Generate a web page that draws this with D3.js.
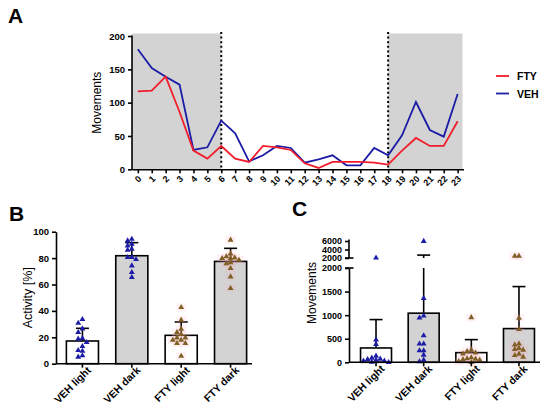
<!DOCTYPE html>
<html>
<head>
<meta charset="utf-8">
<script src="https://cdn.jsdelivr.net/npm/d3@7"></script>
<style>
  body { margin: 0; background: #fff; }
  svg { font-family: "Liberation Sans", Arial, sans-serif; }
</style>
</head>
<body>
<div id="chart"></div>
<script>
// ---- data ----
const hours = d3.range(0, 24);
const ftyHourly = [117, 118, 139, 86, 28, 16, 35, 16, 11, 35, 33, 29, 9, 2, 11, 11, 11, 10, 7, 28, 47, 35, 35, 72];
const vehHourly = [180, 152, 139, 127, 29, 33, 73, 54, 12, 21, 35, 32, 10, 15, 21, 6, 6, 32, 21, 51, 101, 59, 49, 113];
const hourTicksY = [0, 50, 100, 150, 200];

const groups = ["VEH light", "VEH dark", "FTY light", "FTY dark"];
const activityMean = [17.2, 81.8, 21.5, 77.5];
const activitySd = [9.6, 9.9, 10.1, 9.9];
const activityPoints = [
  [33.6, 30.8, 26.5, 23.7, 19.2, 18.7, 16.2, 13.1, 10.1, 9.6, 6.1, 5.1],
  [94.4, 93.2, 90.7, 89.4, 86.9, 86.1, 80.6, 80.6, 79.0, 74.2, 69.2, 65.4],
  [42.7, 33.1, 26.3, 23.7, 22.2, 19.7, 19.7, 17.9, 17.9, 15.4, 15.4, 5.8],
  [93.7, 83.3, 81.1, 80.3, 79.8, 79.8, 78.5, 76.6, 75.8, 72.2, 65.9, 57.1]
];
const activityTicks = [0, 20, 40, 60, 80, 100];

const movementMean = [304, 1042, 205, 715];
const movementSd = [602, 1642, 276, 891];
const movementPoints = [
  [2050, 475, 383, 135, 92, 71, 64, 50, 28, 28, 7, 0],
  [5937, 1355, 986, 943, 567, 390, 390, 248, 248, 156, 50, 14],
  [950, 262, 230, 200, 180, 100, 80, 70, 60, 50, 20, 0],
  [2450, 2450, 936, 700, 390, 369, 298, 277, 262, 177, 149, 113]
];
const movementTicksLow = [0, 500, 1000, 1500, 2000];
const movementTicksHigh = [2000, 4000, 6000];

// ---- styling ----
const RED = "#f21d2b";
const BLUE = "#1c1ca6";
const BROWN = "#7e5f24";
const GREY = "#d3d3d3";
const barColor = g => g.endsWith("dark") ? GREY : "#fff";
const pointColor = g => g.startsWith("VEH") ? BLUE : BROWN;

const svg = d3.select("#chart").append("svg")
  .attr("width", 550).attr("height", 413);

function styleAxis(g) {
  g.selectAll("path, line").attr("stroke", "#000").attr("stroke-width", 1.6);
  g.selectAll("text").attr("font-weight", "bold").attr("fill", "#000");
}

// simple swarm layout so that overlapping points spread sideways
function swarm(values, y, cx, dx, dy) {
  const placed = [];
  return values.map(v => {
    const py = y(v);
    for (let k = 0; k < 40; k++) {
      const off = k === 0 ? 0 : (k % 2 ? -1 : 1) * Math.ceil(k / 2) * dx;
      const px = cx + off;
      if (!placed.some(p => Math.abs(p.x - px) < dx * 0.9 && Math.abs(p.y - py) < dy)) {
        placed.push({ x: px, y: py });
        return { x: px, y: py, v };
      }
    }
    return { x: cx, y: py, v };
  });
}

const triangle = d3.symbol(d3.symbolTriangle, 15);

// ================= Panel A =================
svg.append("text").attr("x", 8).attr("y", 23)
  .attr("font-size", 21).attr("font-weight", "bold").text("A");

const xA = d3.scalePoint().domain(hours).range([132, 463.5]).padding(0.42);
const yA = d3.scaleLinear().domain([0, 200]).range([169.3, 36]);
const [xa0, xa1] = xA.range();

// dark phases shading
svg.append("rect").attr("x", xa0).attr("y", yA(200) - 2.5)
  .attr("width", xA(6) - xa0).attr("height", yA(0) - yA(200) + 2.5).attr("fill", GREY);
svg.append("rect").attr("x", xA(18)).attr("y", yA(200) - 2.5)
  .attr("width", xa1 - 1 - xA(18)).attr("height", yA(0) - yA(200) + 2.5).attr("fill", GREY);

[6, 18].forEach(h => {
  svg.append("line").attr("x1", xA(h)).attr("x2", xA(h))
    .attr("y1", yA(200) - 4).attr("y2", yA(0))
    .attr("stroke", "#000").attr("stroke-width", 2).attr("stroke-dasharray", "2,2.6");
});

const lineA = series => d3.line().x((d, i) => xA(hours[i])).y(d => yA(d))(series);
svg.append("path").attr("d", lineA(vehHourly)).attr("fill", "none")
  .attr("stroke", BLUE).attr("stroke-width", 1.8);
svg.append("path").attr("d", lineA(ftyHourly)).attr("fill", "none")
  .attr("stroke", RED).attr("stroke-width", 1.8);

const gAy = svg.append("g").attr("transform", `translate(${xa0},0)`)
  .call(d3.axisLeft(yA).tickValues(hourTicksY).tickSize(4).tickSizeOuter(0))
  .attr("font-size", 9.5).attr("font-family", null);
styleAxis(gAy);
gAy.select(".domain").remove();
gAy.append("line").attr("y1", yA(200) - 0.5).attr("y2", yA(0) + 0.8)
  .attr("stroke", "#000").attr("stroke-width", 1.6);

const gAx = svg.append("g").attr("transform", `translate(0,${yA(0)})`)
  .call(d3.axisBottom(xA).tickSize(4).tickSizeOuter(0))
  .attr("font-size", 9).attr("font-family", null);
styleAxis(gAx);
gAx.selectAll(".tick text")
  .attr("text-anchor", "end")
  .attr("transform", "translate(1.5,8) rotate(-45)")
  .attr("dx", 0).attr("dy", "0.35em").attr("y", 0);

svg.append("text")
  .attr("transform", `translate(101,${(yA(0) + yA(200)) / 2}) rotate(-90)`)
  .attr("text-anchor", "middle").attr("font-size", 12).text("Movements");

// legend
const legendA = [["FTY", RED], ["VEH", BLUE]];
legendA.forEach(([name, col], i) => {
  const ly = 76 + i * 17.5;
  svg.append("line").attr("x1", 496).attr("x2", 509).attr("y1", ly).attr("y2", ly)
    .attr("stroke", col).attr("stroke-width", 1.8);
  svg.append("text").attr("x", 517).attr("y", ly + 4)
    .attr("font-size", 10.5).attr("font-weight", "bold").text(name);
});

// ================= bar panels helper =================
function drawBars(x, yFn, means, sds, points, zero, cap) {
  groups.forEach((g, i) => {
    const bx = x(g), bw = x.bandwidth(), cx = bx + bw / 2;
    const top = yFn(means[i]);
    svg.append("rect").attr("x", bx).attr("y", top)
      .attr("width", bw).attr("height", zero - top)
      .attr("fill", barColor(g)).attr("stroke", "#000").attr("stroke-width", 1.6);
    cap(cx, means[i], means[i] + sds[i]);
    const pts = swarm(points[i], yFn, cx, 4.2, 4);
    const pg = svg.append("g");
    if (g.startsWith("FTY")) {
      // faint pink halo seen around the FTY markers
      pg.selectAll("rect").data(pts).join("rect")
        .attr("x", d => d.x - 5).attr("y", d => d.y - 4)
        .attr("width", 10).attr("height", 8)
        .attr("fill", "#ff9fb8").attr("opacity", 0.15);
    }
    pg.selectAll("path").data(pts).join("path")
      .attr("d", triangle)
      .attr("transform", d => `translate(${d.x},${d.y})`)
      .attr("fill", pointColor(g));
  });
}

function xLabels(gx) {
  gx.selectAll(".tick text")
    .attr("text-anchor", "end")
    .attr("transform", "translate(4,2) rotate(-45)")
    .attr("dx", 0).attr("dy", "0.7em").attr("y", 0);
}

// ================= Panel B =================
svg.append("text").attr("x", 9).attr("y", 221)
  .attr("font-size", 21).attr("font-weight", "bold").text("B");

const xB = d3.scaleBand().domain(groups).range([56.5, 256.5]).paddingInner(0.35).paddingOuter(0.2);
const yB = d3.scaleLinear().domain([0, 100]).range([363.7, 231.7]);

drawBars(xB, yB, activityMean, activitySd, activityPoints, yB(0), (cx, m, e) => {
  svg.append("line").attr("x1", cx).attr("x2", cx).attr("y1", yB(m)).attr("y2", yB(e))
    .attr("stroke", "#000").attr("stroke-width", 1.6);
  svg.append("line").attr("x1", cx - 6.5).attr("x2", cx + 6.5).attr("y1", yB(e)).attr("y2", yB(e))
    .attr("stroke", "#000").attr("stroke-width", 1.6);
});

const gBy = svg.append("g").attr("transform", "translate(56,0)")
  .call(d3.axisLeft(yB).tickValues(activityTicks).tickSize(4).tickSizeOuter(0))
  .attr("font-size", 9.5).attr("font-family", null);
styleAxis(gBy);

const gBx = svg.append("g").attr("transform", `translate(0,${yB(0)})`)
  .call(d3.axisBottom(xB).tickSize(4).tickSizeOuter(0))
  .attr("font-size", 10.5).attr("font-family", null);
styleAxis(gBx);
gBx.select(".domain").attr("d", "M56,0H252");
xLabels(gBx);

svg.append("text")
  .attr("transform", `translate(32,${(yB(0) + yB(100)) / 2}) rotate(-90)`)
  .attr("text-anchor", "middle").attr("font-size", 12.5).text("Activity [%]");

// ================= Panel C (broken axis) =================
svg.append("text").attr("x", 292).attr("y", 216)
  .attr("font-size", 21).attr("font-weight", "bold").text("C");

const xC = d3.scaleBand().domain(groups).range([351, 544]).paddingInner(0.35).paddingOuter(0.2);
const yCLow = d3.scaleLinear().domain([0, 2000]).range([362.3, 268]);
const yCHigh = d3.scaleLinear().domain([2000, 6000]).range([258, 241]);
const yC = v => v <= 2000 ? yCLow(v) : yCHigh(v);

drawBars(xC, yC, movementMean, movementSd, movementPoints, yCLow(0), (cx, m, e) => {
  const seg = (a, b) => svg.append("line").attr("x1", cx).attr("x2", cx)
    .attr("y1", a).attr("y2", b).attr("stroke", "#000").attr("stroke-width", 1.6);
  if (e > 2000) {
    seg(yC(m), yCLow(2000));
    seg(yCHigh(2000), yCHigh(e));
  } else {
    seg(yC(m), yC(e));
  }
  svg.append("line").attr("x1", cx - 6.5).attr("x2", cx + 6.5).attr("y1", yC(e)).attr("y2", yC(e))
    .attr("stroke", "#000").attr("stroke-width", 1.6);
});

const gCy1 = svg.append("g").attr("transform", "translate(349,0)")
  .call(d3.axisLeft(yCLow).tickValues(movementTicksLow).tickFormat(d3.format("d")).tickSize(4).tickSizeOuter(0))
  .attr("font-size", 9).attr("font-family", null);
styleAxis(gCy1);
const gCy2 = svg.append("g").attr("transform", "translate(349,0)")
  .call(d3.axisLeft(yCHigh).tickValues(movementTicksHigh).tickFormat(d3.format("d")).tickSize(4).tickSizeOuter(0))
  .attr("font-size", 9).attr("font-family", null);
styleAxis(gCy2);
gCy2.select(".domain").attr("d", `M0,${yCHigh(2000)}V${yCHigh(6000) - 1.5}`);
// break marks
[yCLow(2000), yCHigh(2000)].forEach(yy => {
  svg.append("line").attr("x1", 345).attr("x2", 353.5).attr("y1", yy).attr("y2", yy)
    .attr("stroke", "#000").attr("stroke-width", 1.6);
});

const gCx = svg.append("g").attr("transform", `translate(0,${yCLow(0)})`)
  .call(d3.axisBottom(xC).tickSize(4).tickSizeOuter(0))
  .attr("font-size", 10.5).attr("font-family", null);
styleAxis(gCx);
gCx.select(".domain").attr("d", "M349,0H540");
xLabels(gCx);

svg.append("text")
  .attr("transform", `translate(316,293) rotate(-90)`)
  .attr("text-anchor", "middle").attr("font-size", 12).text("Movements");
</script>
</body>
</html>
